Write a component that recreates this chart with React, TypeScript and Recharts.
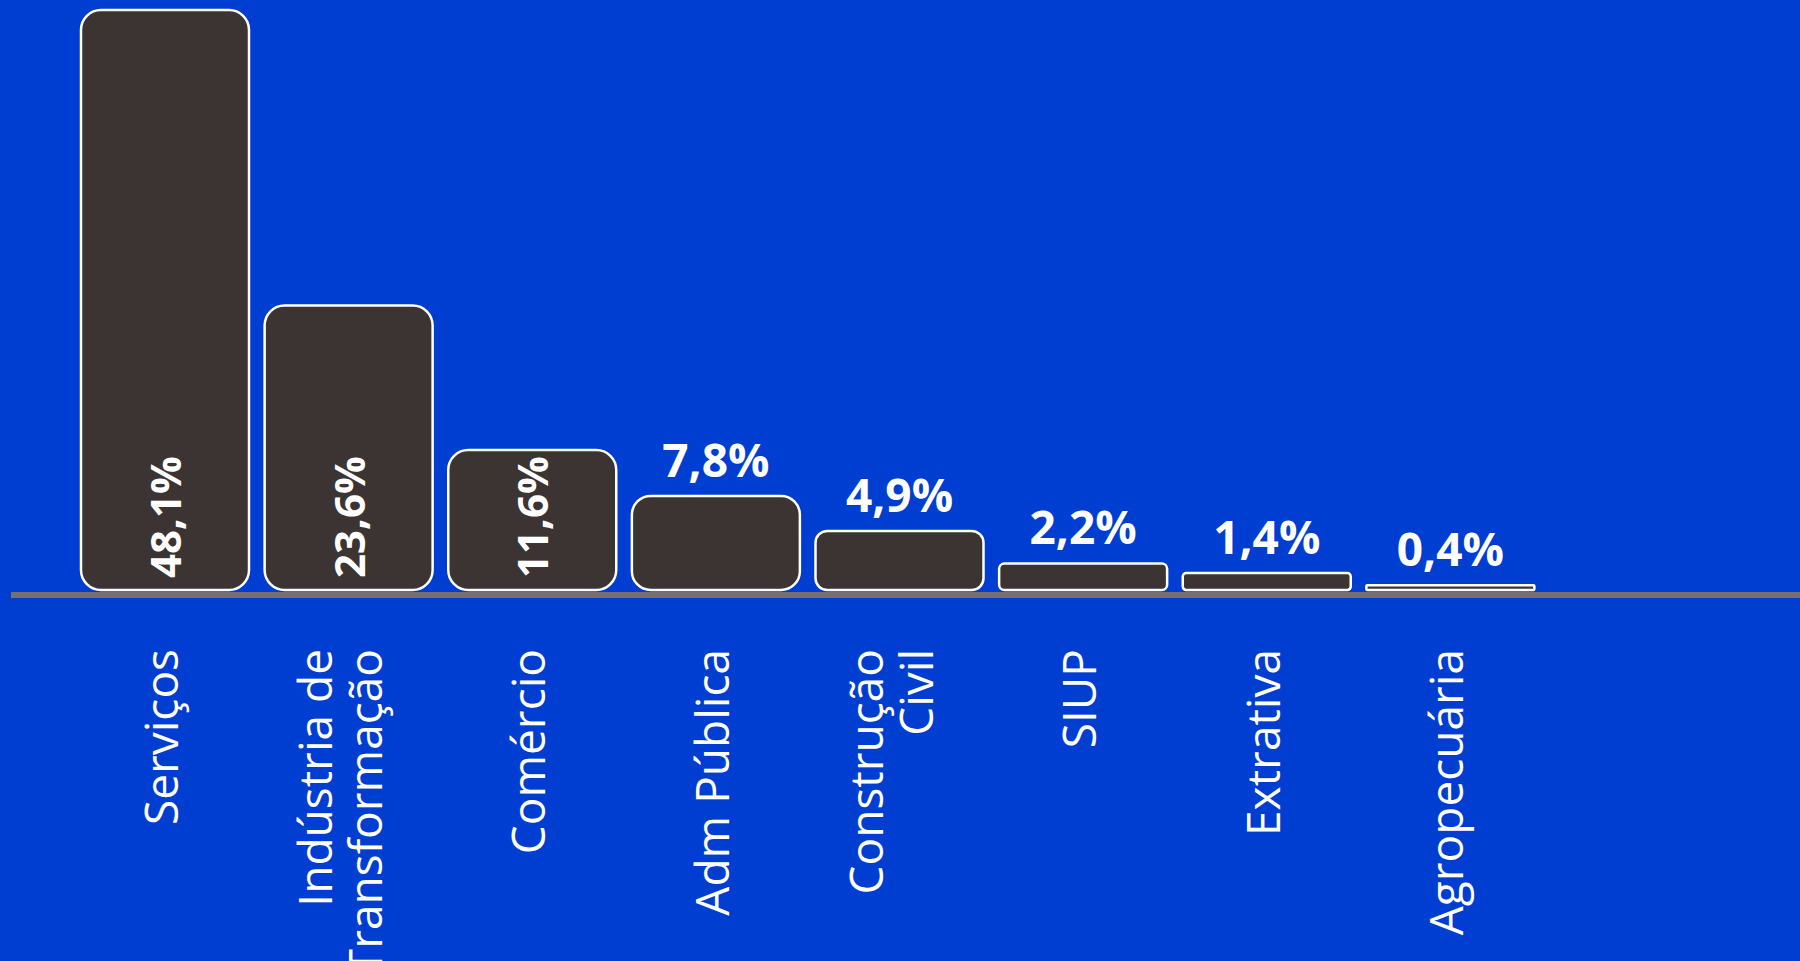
import React from 'react';
import { BarChart, Bar, XAxis, YAxis, LabelList } from 'recharts';

const categories = [
  'Serviços',
  'Indústria de\nTransformação',
  'Comércio',
  'Adm Pública',
  'Construção\nCivil',
  'SIUP',
  'Extrativa',
  'Agropecuária',
];
const shares = [48.1, 23.6, 11.6, 7.8, 4.9, 2.2, 1.4, 0.4];

const data = categories.map((name, i) => ({ name, value: shares[i] }));

const BG = '#003DD1';
const BAR = '#3B3432';
const AXIS = '#767171';
const FONT = "'Open Sans', 'Noto Sans', sans-serif";

const fmt = (v: number) => v.toFixed(1).replace('.', ',') + '%';

const RoundedBar = (props: any) => {
  const { x, y, width, height } = props;
  if (!height || height <= 0) return null;
  const r = Math.min(20, height * 0.2, width / 2);
  return (
    <rect x={x} y={y} width={width} height={height} rx={r} ry={r} fill={BAR} stroke="#ffffff" strokeWidth={2.5} />
  );
};

const CategoryTick = (props: any) => {
  const { x, y, payload } = props;
  const lines = String(payload.value).split('\n');
  const step = 50;
  const shift = lines.length > 1 ? -4 : 0;
  return (
    <g transform={`translate(${x + shift},${y + 59}) rotate(-90)`}>
      {lines.map((line: string, i: number) => (
        <text
          key={i}
          x={0}
          y={13 + (i - (lines.length - 1) / 2) * step}
          textAnchor="end"
          fill="#ffffff"
          fontFamily={FONT}
          fontSize={46}
        >
          {line}
        </text>
      ))}
    </g>
  );
};

const ValueLabel = (props: any) => {
  const vb = props.viewBox && props.viewBox.width !== undefined ? props.viewBox : props;
  const { x, y, width, height } = vb;
  const value = Number(props.value);
  const cx = x + width / 2;
  const text = fmt(value);
  if (value > 10) {
    return (
      <text
        transform={`translate(${cx + 16},${y + height - 12}) rotate(-90)`}
        textAnchor="start"
        fill="#ffffff"
        fontFamily={FONT}
        fontWeight={700}
        fontSize={42}
      >
        {text}
      </text>
    );
  }
  return (
    <text x={cx} y={y - 19} textAnchor="middle" fill="#ffffff" fontFamily={FONT} fontWeight={700} fontSize={46}>
      {text}
    </text>
  );
};

export default function App() {
  return (
    <div style={{ position: 'fixed', left: 0, top: 0, width: 1800, height: 961, background: BG, overflow: 'hidden' }}>
      <BarChart width={1800} height={961} data={data} margin={{ top: 10, right: 0, bottom: 0, left: 11 }}>
        <XAxis
          dataKey="name"
          height={371}
          interval={0}
          tickLine={false}
          tickSize={0}
          tickMargin={0}
          axisLine={{ stroke: AXIS, strokeWidth: 6, transform: 'translate(0,5)' }}
          tick={<CategoryTick />}
          padding={{ left: 62, right: 258 }}
        />
        <YAxis hide domain={[0, 'dataMax']} />
        <Bar dataKey="value" barSize={168} shape={<RoundedBar />} isAnimationActive={false}>
          <LabelList dataKey="value" content={<ValueLabel />} />
        </Bar>
      </BarChart>
    </div>
  );
}
